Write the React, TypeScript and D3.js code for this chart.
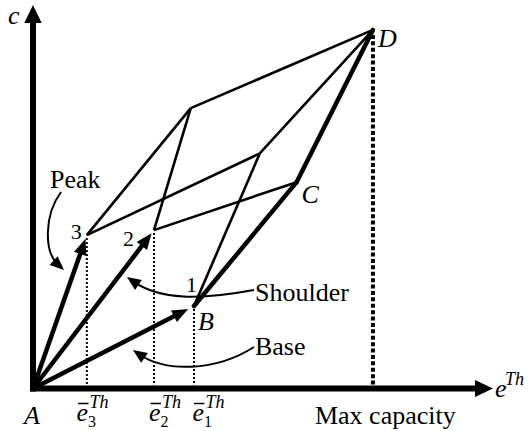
import React from 'react';
import * as d3 from 'd3';

const W = 532;
const H = 431;

// Vertices in (e^Th, c) units
const vertexNames = ['A', '3', '2', 'B', 'T', 'M', 'C', 'D'];
const vertexX = [0, 11.7, 26.3, 35.0, 34.3, 49.3, 57.3, 73.9];
const vertexY = [0, 40.0, 41.3, 21.5, 73.1, 61.3, 53.8, 93.5];

// Edges of the capacity polytope
const thinEdges = [['3', 'T'], ['2', 'T'], ['3', 'M'], ['B', 'M'], ['2', 'C'], ['T', 'D'], ['M', 'D']];
const thickEdges = [['B', 'C'], ['C', 'D']];

// Vectors from origin A
const vectorEnds = ['3', '2', 'B'];
const vectorTipGap = [4, 4, 6.5];

// Threshold drop lines
const thresholdVertices = ['3', '2', 'B'];
const thresholdIndex = ['3', '2', '1'];
const thresholdLabelDx = [-10.3, -5, -1.6];

// Vertex labels
const vertexLabels = [
  { v: '3', text: '3', italic: false, size: 22, dx: -16, dy: 4 },
  { v: '2', text: '2', italic: false, size: 22, dx: -31, dy: 16 },
  { v: 'B', text: '1', italic: false, size: 22, dx: -8, dy: -14 },
  { v: 'B', text: 'B', italic: true, size: 26, dx: 4, dy: 24 },
  { v: 'C', text: 'C', italic: true, size: 26, dx: 5, dy: 21 },
  { v: 'D', text: 'D', italic: true, size: 26, dx: 5, dy: 17 },
  { v: 'A', text: 'A', italic: true, size: 26, dx: -9, dy: 35 },
];

// Annotation curves (cubic Bezier control points in data units)
const annotationNames = ['Peak', 'Shoulder', 'Base'];
const annotationCurves = [
  [[6.09, 51.24], [2.39, 45.24], [2.39, 35.59], [6.74, 30.9]],
  [[48.04, 25.68], [36.3, 23.08], [27.61, 23.08], [20.43, 29.07]],
  [[48.04, 10.82], [39.57, 4.3], [28.7, 4.3], [21.74, 10.04]],
];
const annotationTextPos = [
  { dx: -11, dy: -4, anchor: 'start' },
  { dx: 1, dy: 11, anchor: 'start' },
  { dx: 1, dy: 8, anchor: 'start' },
];

const xMax = 100;
const yMax = 100;

const FONT = '"Liberation Serif", "Times New Roman", Times, serif';

function arrowHead(tipX: number, tipY: number, dirX: number, dirY: number, len: number, half: number) {
  const n = Math.hypot(dirX, dirY);
  const ux = dirX / n;
  const uy = dirY / n;
  const bx = tipX - ux * len;
  const by = tipY - uy * len;
  const px = -uy;
  const py = ux;
  return `M${tipX},${tipY}L${bx + px * half},${by + py * half}L${bx - px * half},${by - py * half}Z`;
}

export default function App() {
  const x = d3.scaleLinear().domain([0, xMax]).range([33, 493]);
  const y = d3.scaleLinear().domain([0, yMax]).range([388.5, 5]);

  const P = (name: string) => {
    const i = vertexNames.indexOf(name);
    return [x(vertexX[i]), y(vertexY[i])] as [number, number];
  };
  const line = d3.line();
  const A = P('A');

  const thin = thinEdges.map(([a, b]) => line([P(a), P(b)]) as string);
  const thick = thickEdges.map(([a, b]) => line([P(a), P(b)]) as string);

  const vectors = vectorEnds.map((v, i) => {
    const [ex, ey] = P(v);
    const dx = ex - A[0];
    const dy = ey - A[1];
    const n = Math.hypot(dx, dy);
    const tx = ex - (dx / n) * vectorTipGap[i];
    const ty = ey - (dy / n) * vectorTipGap[i];
    const bx = tx - (dx / n) * 10;
    const by = ty - (dy / n) * 10;
    return {
      shaft: line([A, [bx, by]]) as string,
      head: arrowHead(tx, ty, dx, dy, 16, 6.5),
    };
  });

  const axisY = y(0);
  const axisX = x(0);

  const drops = thresholdVertices.map((v) => {
    const [vx, vy] = P(v);
    return { x: vx, y1: vy + 3, y2: axisY - 3 };
  });
  const D = P('D');

  const annotations = annotationCurves.map((pts) => {
    const p = pts.map(([a, b]) => [x(a), y(b)]);
    const dirX = p[3][0] - p[2][0];
    const dirY = p[3][1] - p[2][1];
    const n = Math.hypot(dirX, dirY);
    const endX = p[3][0] - (dirX / n) * 8;
    const endY = p[3][1] - (dirY / n) * 8;
    const path = d3.path();
    path.moveTo(p[0][0], p[0][1]);
    path.bezierCurveTo(p[1][0], p[1][1], p[2][0], p[2][1], endX, endY);
    return {
      curve: path.toString(),
      head: arrowHead(p[3][0], p[3][1], dirX, dirY, 14, 6),
      start: p[0],
    };
  });

  return (
    <svg width={W} height={H} style={{ position: 'absolute', left: 0, top: 0, background: '#fff' }}>
      <rect x={0} y={0} width={W} height={H} fill="#fff" />
      {/* Axes */}
      <line x1={axisX} y1={axisY + 3} x2={axisX} y2={y(yMax) + 16} stroke="#000" strokeWidth={6} />
      <path d={arrowHead(axisX, y(yMax), 0, -1, 18, 8.7)} fill="#000" />
      <line x1={axisX - 3} y1={axisY} x2={x(xMax) - 16} y2={axisY} stroke="#000" strokeWidth={6} />
      <path d={arrowHead(x(xMax), axisY, 1, 0, 18, 8.5)} fill="#000" />

      {/* Drop lines */}
      {drops.map((d, i) => (
        <line key={'drop' + i} x1={d.x} y1={d.y1} x2={d.x} y2={d.y2} stroke="#000" strokeWidth={2} strokeDasharray="2 2" />
      ))}
      <line x1={D[0]} y1={D[1] + 5} x2={D[0]} y2={axisY - 3} stroke="#000" strokeWidth={4} strokeDasharray="4 2.4" />

      {/* Polytope edges */}
      {thin.map((d, i) => (
        <path key={'thin' + i} d={d} stroke="#000" strokeWidth={2.6} fill="none" strokeLinejoin="round" />
      ))}
      {thick.map((d, i) => (
        <path key={'thick' + i} d={d} stroke="#000" strokeWidth={4.5} fill="none" strokeLinecap="round" />
      ))}

      {/* Vectors */}
      {vectors.map((v, i) => (
        <g key={'vec' + i}>
          <path d={v.shaft} stroke="#000" strokeWidth={4.5} fill="none" />
          <path d={v.head} fill="#000" />
        </g>
      ))}

      {/* Annotation arrows */}
      {annotations.map((a, i) => (
        <g key={'ann' + i}>
          <path d={a.curve} stroke="#000" strokeWidth={2} fill="none" />
          <path d={a.head} fill="#000" />
          <text
            x={a.start[0] + annotationTextPos[i].dx}
            y={a.start[1] + annotationTextPos[i].dy}
            fontFamily={FONT}
            fontSize={26}
            textAnchor={annotationTextPos[i].anchor as any}
          >
            {annotationNames[i]}
          </text>
        </g>
      ))}

      {/* Vertex labels */}
      {vertexLabels.map((l, i) => {
        const [vx, vy] = P(l.v);
        return (
          <text
            key={'vl' + i}
            x={vx + l.dx}
            y={vy + l.dy}
            fontFamily={FONT}
            fontSize={l.size}
            fontStyle={l.italic ? 'italic' : 'normal'}
          >
            {l.text}
          </text>
        );
      })}

      {/* Axis labels */}
      <text x={8} y={24} fontFamily={FONT} fontSize={26} fontStyle="italic">c</text>
      <text x={x(xMax) + 2} y={axisY + 8.5} fontFamily={FONT} fontSize={26} fontStyle="italic">e</text>
      <text x={x(xMax) + 12} y={axisY - 3.5} fontFamily={FONT} fontSize={18} fontStyle="italic">Th</text>

      {/* Threshold labels */}
      {thresholdVertices.map((v, i) => {
        const ex = P(v)[0] + thresholdLabelDx[i];
        return (
          <g key={'thr' + i}>
            <text x={ex} y={421} fontFamily={FONT} fontSize={26} fontStyle="italic">e</text>
            <line x1={ex + 1.5} y1={403.5} x2={ex + 12} y2={403.5} stroke="#000" strokeWidth={1.5} />
            <text x={ex + 13} y={408} fontFamily={FONT} fontSize={18} fontStyle="italic">Th</text>
            <text x={ex + 11.5} y={427} fontFamily={FONT} fontSize={16}>{thresholdIndex[i]}</text>
          </g>
        );
      })}

      <text x={D[0] - 58} y={424} fontFamily={FONT} fontSize={26}>Max capacity</text>
    </svg>
  );
}
